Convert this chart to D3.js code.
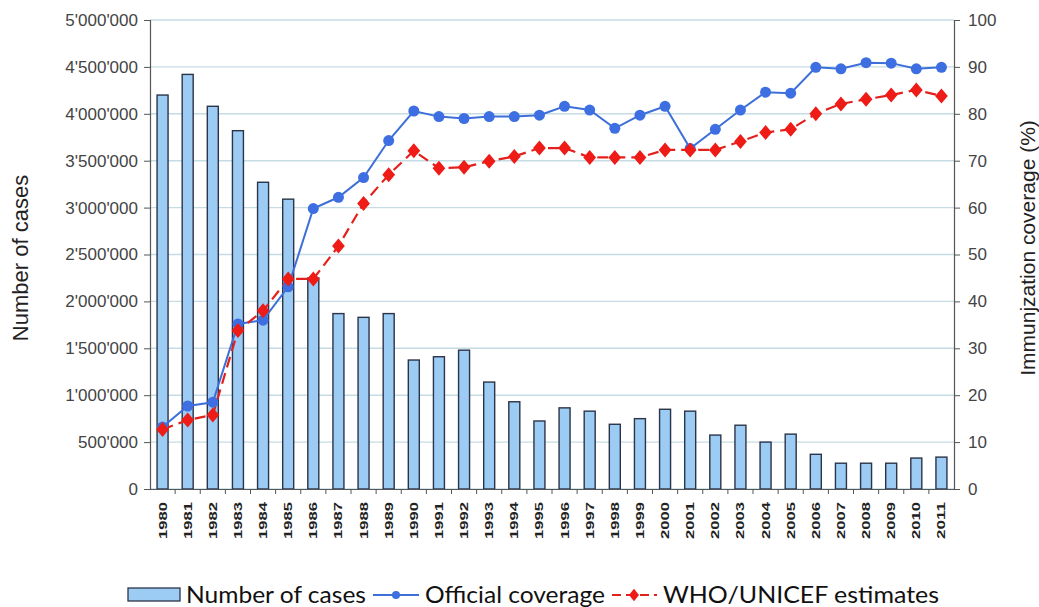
<!DOCTYPE html>
<html>
<head>
<meta charset="utf-8">
<script src="https://cdn.jsdelivr.net/npm/d3@7/dist/d3.min.js"></script>
<style>
  html, body { margin: 0; padding: 0; background: #fff; }
  svg { display: block; }
</style>
</head>
<body>
<svg id="chart" width="1039" height="607"></svg>
<script>
const years = ["1980","1981","1982","1983","1984","1985","1986","1987","1988","1989","1990","1991","1992","1993","1994","1995","1996","1997","1998","1999","2000","2001","2002","2003","2004","2005","2006","2007","2008","2009","2010","2011"];
const cases = [4200000,4420000,4080000,3820000,3270000,3090000,2250000,1870000,1830000,1870000,1375000,1410000,1480000,1140000,930000,725000,865000,830000,690000,750000,850000,830000,575000,680000,500000,585000,370000,275000,275000,275000,330000,340000];
const official = [13.2,17.7,18.5,35.2,36.0,43.1,59.8,62.2,66.4,74.3,80.6,79.4,79.0,79.4,79.4,79.7,81.6,80.8,76.9,79.7,81.6,72.6,76.7,80.8,84.6,84.4,89.9,89.6,90.9,90.8,89.6,89.9];
const whoUnicef = [12.7,14.7,15.8,33.8,38.0,44.8,44.8,51.8,60.9,67.0,72.1,68.4,68.6,69.9,70.9,72.7,72.7,70.7,70.7,70.7,72.3,72.3,72.3,74.1,76.0,76.7,80.0,82.1,83.1,84.0,85.1,83.8];
const leftTicks = [0,500000,1000000,1500000,2000000,2500000,3000000,3500000,4000000,4500000,5000000];
const rightTicks = [0,10,20,30,40,50,60,70,80,90,100];
const legendLabels = ["Number of cases","Official coverage","WHO/UNICEF estimates"];
const leftTitle = "Number of cases";
const rightTitle = "Immunjzation coverage (%)";

const svg = d3.select("#chart");
const m = {left: 150, right: 954, top: 20, bottom: 489};

const xb = d3.scaleBand().domain(years).range([m.left, m.right]);
const yL = d3.scaleLinear().domain([0, 5000000]).range([m.bottom, m.top]);
const yR = d3.scaleLinear().domain([0, 100]).range([m.bottom, m.top]);

const fmt = v => d3.format(",")(v).replace(/,/g, "'");
const axisFont = "Liberation Sans, Arial, sans-serif";

// gridlines
svg.append("g").selectAll("line").data(rightTicks).join("line")
  .attr("x1", m.left).attr("x2", m.right)
  .attr("y1", d => yR(d)).attr("y2", d => yR(d))
  .attr("stroke", "#c6dce4").attr("stroke-width", 1.4);

// bars
svg.append("g").selectAll("rect").data(years).join("rect")
  .attr("x", (d) => xb(d) + xb.bandwidth()/2 - 5.5)
  .attr("width", 11)
  .attr("y", (d, i) => yL(cases[i]))
  .attr("height", (d, i) => m.bottom - yL(cases[i]))
  .attr("fill", "#9ccbf3").attr("stroke", "#2b3448").attr("stroke-width", 1.4);

// left axis
const axL = svg.append("g").attr("transform", `translate(${m.left},0)`)
  .call(d3.axisLeft(yL).tickValues(leftTicks).tickFormat(fmt).tickSize(6).tickPadding(6));
axL.selectAll("text").attr("font-family", axisFont).attr("font-size", 17).attr("fill", "#444");
// right axis
const axR = svg.append("g").attr("transform", `translate(${m.right},0)`)
  .call(d3.axisRight(yR).tickValues(rightTicks).tickSize(6).tickPadding(8));
axR.selectAll("text").attr("font-family", axisFont).attr("font-size", 17).attr("fill", "#444");
// bottom axis
const axB = svg.append("g").attr("transform", `translate(0,${m.bottom})`)
  .call(d3.axisBottom(xb).tickSize(0).tickPadding(0));
axB.selectAll(".tick text")
  .attr("font-family", axisFont).attr("font-size", 11).attr("font-weight", "bold").attr("fill", "#222")
  .attr("text-anchor", "end").attr("textLength", 37).attr("lengthAdjust", "spacingAndGlyphs")
  .attr("transform", "translate(4,13) rotate(-90)").attr("dy", 0).attr("y", 0);
// boundary ticks
svg.append("g").selectAll("line").data(years.slice(1)).join("line")
  .attr("x1", d => xb(d)).attr("x2", d => xb(d))
  .attr("y1", m.bottom).attr("y2", m.bottom + 5)
  .attr("stroke", "#555");
svg.selectAll(".domain").attr("stroke", "#555").attr("stroke-width", 1.2);
svg.selectAll(".tick line").attr("stroke", "#555");

// lines
const cx = (d, i) => xb(years[i]) + xb.bandwidth()/2;
const lineGen = d3.line().x((d, i) => cx(d, i)).y(d => yR(d));
svg.append("path").datum(official).attr("d", lineGen)
  .attr("fill", "none").attr("stroke", "#3d6fd9").attr("stroke-width", 2);
svg.append("path").datum(whoUnicef).attr("d", lineGen)
  .attr("fill", "none").attr("stroke", "#e3201c").attr("stroke-width", 2.2).attr("stroke-dasharray", "11,6");

svg.append("g").selectAll("circle").data(official).join("circle")
  .attr("cx", cx).attr("cy", d => yR(d)).attr("r", 5.5).attr("fill", "#3d6fe3");
const diamond = d3.symbol().type(d3.symbolDiamond).size(90);
svg.append("g").selectAll("path").data(whoUnicef).join("path")
  .attr("d", diamond)
  .attr("transform", (d, i) => `translate(${cx(d, i)},${yR(d)}) scale(1.25,0.85)`)
  .attr("fill", "#ee1b17");

// axis titles
svg.append("text").attr("transform", "translate(28,258) rotate(-90)")
  .attr("text-anchor", "middle").attr("font-family", axisFont).attr("font-size", 22).attr("fill", "#222")
  .text(leftTitle);
svg.append("text").attr("transform", "translate(1035,248) rotate(-90)")
  .attr("text-anchor", "middle").attr("font-family", axisFont).attr("font-size", 21).attr("fill", "#222")
  .text(rightTitle);

// legend
const lg = svg.append("g").attr("font-family", "Lato, sans-serif").attr("font-size", 24).attr("fill", "#111");
lg.append("rect").attr("x", 128).attr("y", 588).attr("width", 52).attr("height", 13)
  .attr("fill", "#9ccbf3").attr("stroke", "#2b3448").attr("stroke-width", 1.3);
lg.append("text").attr("x", 186).attr("y", 603).attr("textLength", 180).attr("lengthAdjust", "spacingAndGlyphs").text(legendLabels[0]);
lg.append("line").attr("x1", 373).attr("x2", 419).attr("y1", 595).attr("y2", 595).attr("stroke", "#3d6fd9").attr("stroke-width", 2);
lg.append("circle").attr("cx", 396).attr("cy", 595).attr("r", 4).attr("fill", "#3d6fe3");
lg.append("text").attr("x", 425).attr("y", 603).attr("textLength", 180).attr("lengthAdjust", "spacingAndGlyphs").text(legendLabels[1]);
lg.append("line").attr("x1", 612).attr("x2", 657).attr("y1", 595).attr("y2", 595).attr("stroke", "#e3201c").attr("stroke-width", 2).attr("stroke-dasharray", "9,5");
lg.append("path").attr("d", d3.symbol().type(d3.symbolDiamond).size(60)).attr("transform", "translate(634,595) scale(1.2,0.85)").attr("fill", "#ee1b17");
lg.append("text").attr("x", 663).attr("y", 603).attr("textLength", 276).attr("lengthAdjust", "spacingAndGlyphs").text(legendLabels[2]);
</script>
</body>
</html>
